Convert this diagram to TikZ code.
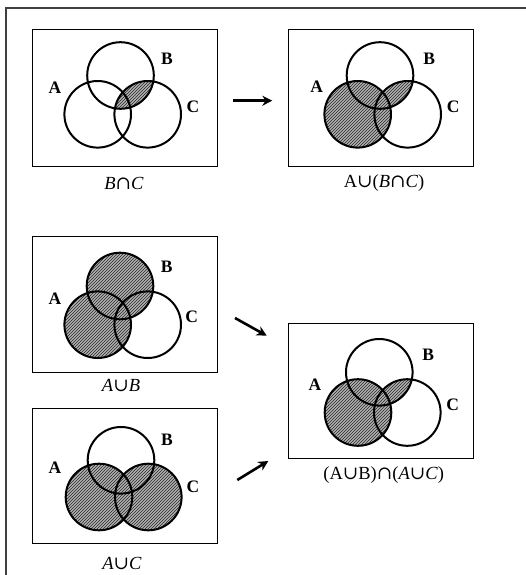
\documentclass[tikz,border=0pt]{standalone}
\usepackage{fontspec}
\setmainfont{Liberation Serif}
\newfontfamily\symf{DejaVu Serif}
\usetikzlibrary{patterns,arrows.meta}
\newcommand{\RR}{33.3}
\newcommand{\capp}{{\symf ∩}}
\newcommand{\cupp}{{\symf ∪}}
\begin{document}
\begin{tikzpicture}[x=1pt,y=-1pt,
  frame/.style={draw=black!75,line width=1.4pt},
  panelbox/.style={draw=black,line width=1pt},
  ring/.style={draw=black,line width=2pt},
  hatch/.style={preaction={fill=gray!60},pattern=north east lines,pattern color=black!85},
  setlab/.style={font=\fontsize{17.5}{18}\selectfont\bfseries,inner sep=0pt},
  caplab/.style={font=\fontsize{18.5}{19}\selectfont,inner sep=0pt},
  flow/.style={draw=black,line width=2.6pt,-{Stealth[length=10pt,width=10pt]}}]
\useasboundingbox (0,0) rectangle (526,575);
\draw[frame] (6,575) -- (6,8) -- (526,8);

% ---------- panel 1: B cap C
\draw[panelbox] (32.7,30) rectangle (217.7,166);
\coordinate (p1A) at (97.7,114.3);
\coordinate (p1B) at (120.5,75.5);
\coordinate (p1C) at (147.7,114.3);
\begin{scope}\clip (p1B) circle (\RR); \fill[hatch] (p1C) circle (\RR);\end{scope}
\draw[ring] (p1A) circle (\RR) (p1B) circle (\RR) (p1C) circle (\RR);
\node[setlab] (l1A) at (55,88) {A};
\node[setlab] (l1B) at (167,59) {B};
\node[setlab] (l1C) at (193,107) {C};
\node[caplab] (c1) at (124,183) {\textit{B}\capp\textit{C}};

% ---------- panel 2: A cup (B cap C)
\draw[panelbox] (288.3,30) rectangle (473.3,166);
\coordinate (p2A) at (357.7,114.3);
\coordinate (p2B) at (380,75.5);
\coordinate (p2C) at (407.7,114.3);
\fill[hatch] (p2A) circle (\RR);
\begin{scope}\clip (p2B) circle (\RR); \fill[hatch] (p2C) circle (\RR);\end{scope}
\draw[ring] (p2A) circle (\RR) (p2B) circle (\RR) (p2C) circle (\RR);
\node[setlab] (l2A) at (316.7,87) {A};
\node[setlab] (l2B) at (429.3,59) {B};
\node[setlab] (l2C) at (453.3,107) {C};
\node[caplab] (c2) at (384,183) {A\cupp(\textit{B}\capp\textit{C})};

% ---------- panel 3: A cup B
\draw[panelbox] (32.7,236) rectangle (217.7,372.3);
\coordinate (p3A) at (97.7,324.7);
\coordinate (p3B) at (120,286);
\coordinate (p3C) at (147.7,324.7);
\fill[hatch] (p3A) circle (\RR);
\fill[hatch] (p3B) circle (\RR);
\draw[ring] (p3A) circle (\RR) (p3B) circle (\RR) (p3C) circle (\RR);
\node[setlab] (l3A) at (55,299) {A};
\node[setlab] (l3B) at (166.7,266.7) {B};
\node[setlab] (l3C) at (191.7,316.7) {C};
\node[caplab] (c3) at (121,386) {\textit{A}\cupp\textit{B}};

% ---------- panel 4: A cup C
\draw[panelbox] (32.7,408.3) rectangle (217.7,543.3);
\coordinate (p4A) at (99,497);
\coordinate (p4B) at (121,460.3);
\coordinate (p4C) at (148.3,497);
\fill[hatch] (p4A) circle (\RR);
\fill[hatch] (p4C) circle (\RR);
\draw[ring] (p4A) circle (\RR) (p4B) circle (\RR) (p4C) circle (\RR);
\node[setlab] (l4A) at (55,467.3) {A};
\node[setlab] (l4B) at (167,440) {B};
\node[setlab] (l4C) at (193,486.7) {C};
\node[caplab] (c4) at (122,563) {\textit{A}\cupp\textit{C}};

% ---------- panel 5: (A cup B) cap (A cup C)
\draw[panelbox] (288.3,323.3) rectangle (473.3,458.3);
\coordinate (p5A) at (358,412.5);
\coordinate (p5B) at (379.3,372.3);
\coordinate (p5C) at (407.3,412.5);
\fill[hatch] (p5A) circle (\RR);
\begin{scope}\clip (p5B) circle (\RR); \fill[hatch] (p5C) circle (\RR);\end{scope}
\draw[ring] (p5A) circle (\RR) (p5B) circle (\RR) (p5C) circle (\RR);
\node[setlab] (l5A) at (315,385) {A};
\node[setlab] (l5B) at (428.3,355) {B};
\node[setlab] (l5C) at (452.7,405) {C};
\node[caplab] (c5) at (383.7,475) {(A\cupp B)\capp(\textit{A}\cupp\textit{C})};

% ---------- arrows
\coordinate (a1s) at (233.3,100.7); \coordinate (a1e) at (272.3,100.7);
\coordinate (a2s) at (235,318);     \coordinate (a2e) at (266.7,335.7);
\coordinate (a3s) at (237.3,480);   \coordinate (a3e) at (268.3,461);
\draw[flow] (a1s) -- (a1e);
\draw[flow] (a2s) -- (a2e);
\draw[flow] (a3s) -- (a3e);
\end{tikzpicture}
\end{document}
